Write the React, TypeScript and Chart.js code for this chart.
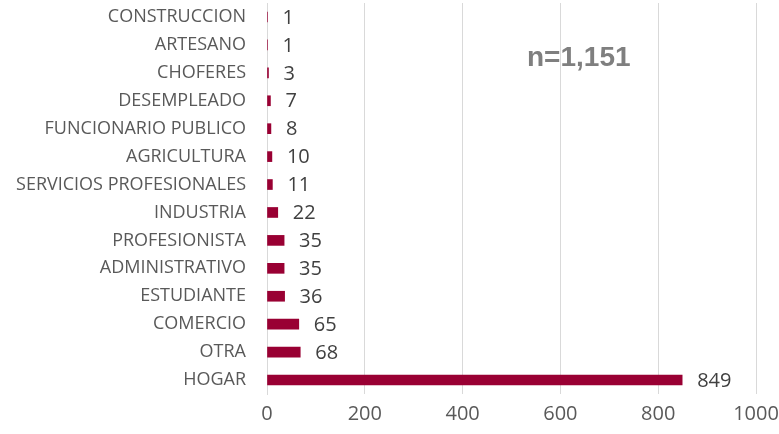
import React, { useEffect, useRef } from "react";
import { Chart, registerables } from "chart.js";

Chart.register(...registerables);

const categories = [
  "CONSTRUCCION",
  "ARTESANO",
  "CHOFERES",
  "DESEMPLEADO",
  "FUNCIONARIO PUBLICO",
  "AGRICULTURA",
  "SERVICIOS PROFESIONALES",
  "INDUSTRIA",
  "PROFESIONISTA",
  "ADMINISTRATIVO",
  "ESTUDIANTE",
  "COMERCIO",
  "OTRA",
  "HOGAR",
];
const values = [1, 1, 3, 7, 8, 10, 11, 22, 35, 35, 36, 65, 68, 849];
const xMin = 0;
const xMax = 1000;
const xStep = 200;
const annotation = "n=1,151";

const FONT = "'Open Sans', sans-serif";

const labelPlugin = {
  id: "valueLabels",
  afterDatasetsDraw(chart: any) {
    const ctx = chart.ctx;
    const meta = chart.getDatasetMeta(0);
    ctx.save();
    ctx.font = `20px ${FONT}`;
    ctx.fillStyle = "#404040";
    ctx.textAlign = "left";
    ctx.textBaseline = "middle";
    meta.data.forEach((bar: any, i: number) => {
      ctx.fillText(String(values[i]), bar.x + 15, bar.y + 1);
    });
    ctx.font = `bold 28px 'Liberation Sans', Arial, sans-serif`;
    ctx.fillStyle = "#7f7f7f";
    ctx.textAlign = "left";
    ctx.fillText(annotation, 527, 58);
    ctx.restore();
  },
};

export default function App() {
  const ref = useRef<HTMLCanvasElement>(null);
  useEffect(() => {
    if (!ref.current) return;
    const chart = new Chart(ref.current, {
      type: "bar",
      data: {
        labels: categories,
        datasets: [
          {
            data: values,
            backgroundColor: "#990033",
            borderWidth: 0,
            barThickness: 10,
          },
        ],
      },
      options: {
        indexAxis: "y",
        animation: false,
        responsive: false,
        maintainAspectRatio: false,
        layout: { autoPadding: false, padding: { left: 0, right: 23, top: 3, bottom: 0 } },
        plugins: {
          legend: { display: false },
          tooltip: { enabled: false },
        },
        scales: {
          x: {
            min: xMin,
            max: xMax,
            ticks: {
              stepSize: xStep,
              color: "#595959",
              font: { family: FONT, size: 20 },
              padding: 8,
              maxRotation: 0,
              callback: (v: any) => String(v),
            },
            grid: { color: "#d9d9d9", drawTicks: false, lineWidth: 1 },
            border: { display: false },
            afterFit(scale: any) {
              scale.height = 40;
              scale.paddingLeft = 0;
              scale.paddingRight = 0;
            },
          },
          y: {
            ticks: {
              color: "#595959",
              font: { family: FONT, size: 18 },
              padding: 21,
              autoSkip: false,
            },
            grid: { display: false, drawTicks: false },
            border: { display: true, color: "#d9d9d9" },
            afterFit(scale: any) {
              scale.width = 267;
              scale.paddingTop = 0;
              scale.paddingBottom = 0;
            },
          },
        },
      },
      plugins: [labelPlugin],
    });
    return () => chart.destroy();
  }, []);
  return (
    <div style={{ position: "fixed", left: 0, top: 0, width: 779, height: 434, background: "#fff" }}>
      <canvas ref={ref} width={779} height={434} style={{ display: "block" }} />
    </div>
  );
}
